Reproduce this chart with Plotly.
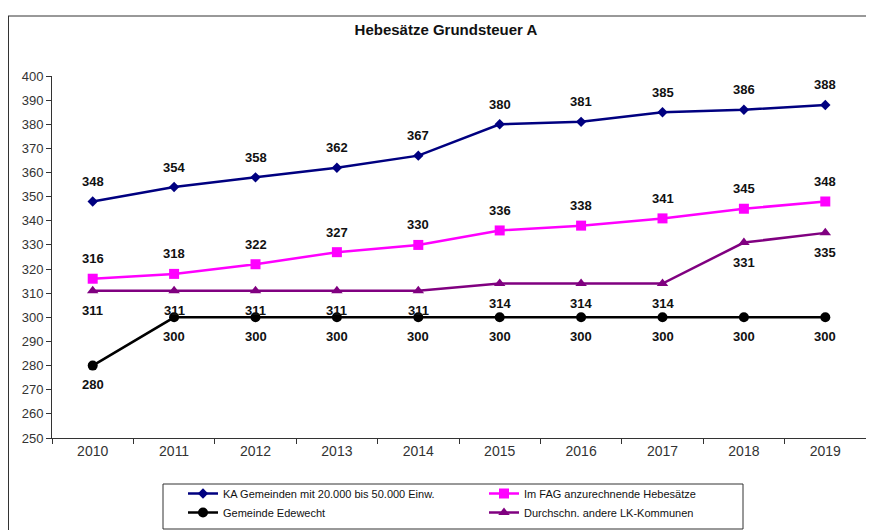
import plotly.graph_objects as go

years = ["2010", "2011", "2012", "2013", "2014", "2015", "2016", "2017", "2018", "2019"]
ka_gemeinden = [348, 354, 358, 362, 367, 380, 381, 385, 386, 388]
fag_hebesaetze = [316, 318, 322, 327, 330, 336, 338, 341, 345, 348]
edewecht = [280, 300, 300, 300, 300, 300, 300, 300, 300, 300]
lk_kommunen = [311, 311, 311, 311, 311, 314, 314, 314, 331, 335]

# name, values, colour, marker, marker size, label offset (px, + = above)
series = [
    ("KA Gemeinden mit 20.000 bis 50.000 Einw.", ka_gemeinden, "#000080", "diamond", 8, 20),
    ("Im FAG anzurechnende Hebesätze", fag_hebesaetze, "#FF00FF", "square", 10, 20),
    ("Gemeinde Edewecht", edewecht, "#000000", "circle", 10, -19),
    ("Durchschn. andere LK-Kommunen", lk_kommunen, "#800080", "triangle-up", 10, -20),
]

# the page has an 8px body margin, so the figure is drawn 8px smaller
W, H = 866, 522
L, R, T, B = 44, 8, 68, 92
pw, ph = W - L - R, H - T - B


def px_x(x):  # reference pixel -> paper x
    return (x - 8 - L) / pw


def px_y(y):  # reference pixel -> paper y
    return (H - B - (y - 8)) / ph


fig = go.Figure()
for name, vals, color, sym, size, off in series:
    fig.add_trace(go.Scatter(
        x=years, y=vals, name=name, mode="lines+markers",
        line=dict(color=color, width=2.5),
        marker=dict(symbol=sym, size=size, color=color),
    ))
    # category axis: numeric x in annotations means the category index
    for i, v in enumerate(vals):
        fig.add_annotation(x=i, y=v, text=f"<b>{v}</b>", showarrow=False,
                           yshift=off, yanchor="middle",
                           font=dict(family="Arial", size=13, color="#111111"))

fig.update_layout(
    width=W, height=H,
    margin=dict(l=L, r=R, t=T, b=B, autoexpand=False),
    paper_bgcolor="white", plot_bgcolor="white",
    font=dict(family="Arial", size=13, color="#333333"),
    title=dict(text="<b>Hebesätze Grundsteuer A</b>", x=(446 - 8) / W, xanchor="center",
               yref="container", y=1 - (30 - 8) / H, yanchor="middle",
               font=dict(size=15, color="#111111")),
    showlegend=True,
    legend=dict(orientation="h", x=px_x(183), xanchor="left",
                y=px_y(479), yanchor="top",
                entrywidth=256, entrywidthmode="pixels",
                borderwidth=0, bgcolor="rgba(0,0,0,0)",
                font=dict(family="Arial", size=11, color="#111111"),
                tracegroupgap=0, itemwidth=30),
)
fig.update_xaxes(type="category", range=[-0.5, 9.5], showline=True, linecolor="#333333", linewidth=1,
                 ticks="outside", tickson="boundaries", ticklen=5, tickcolor="#333333",
                 showgrid=False, tickfont=dict(size=14), automargin=False)
fig.update_yaxes(range=[250, 400], dtick=10, showline=True, linecolor="#333333", linewidth=1,
                 ticks="outside", ticklen=5, tickcolor="#333333", showgrid=False,
                 zeroline=False, tickfont=dict(size=13), automargin=False)

# legend box
fig.add_shape(type="rect", xref="paper", yref="paper",
              x0=px_x(163), x1=px_x(743), y0=px_y(529), y1=px_y(484),
              line=dict(color="#333333", width=1))
# outer chart border
fig.add_shape(type="line", xref="paper", yref="paper",
              x0=px_x(8.5), x1=px_x(8.5), y0=px_y(530), y1=px_y(16),
              line=dict(color="#333333", width=1))
fig.add_shape(type="line", xref="paper", yref="paper",
              x0=px_x(8), x1=px_x(874), y0=px_y(16), y1=px_y(16),
              line=dict(color="#333333", width=1))

fig.write_html("out.html")
